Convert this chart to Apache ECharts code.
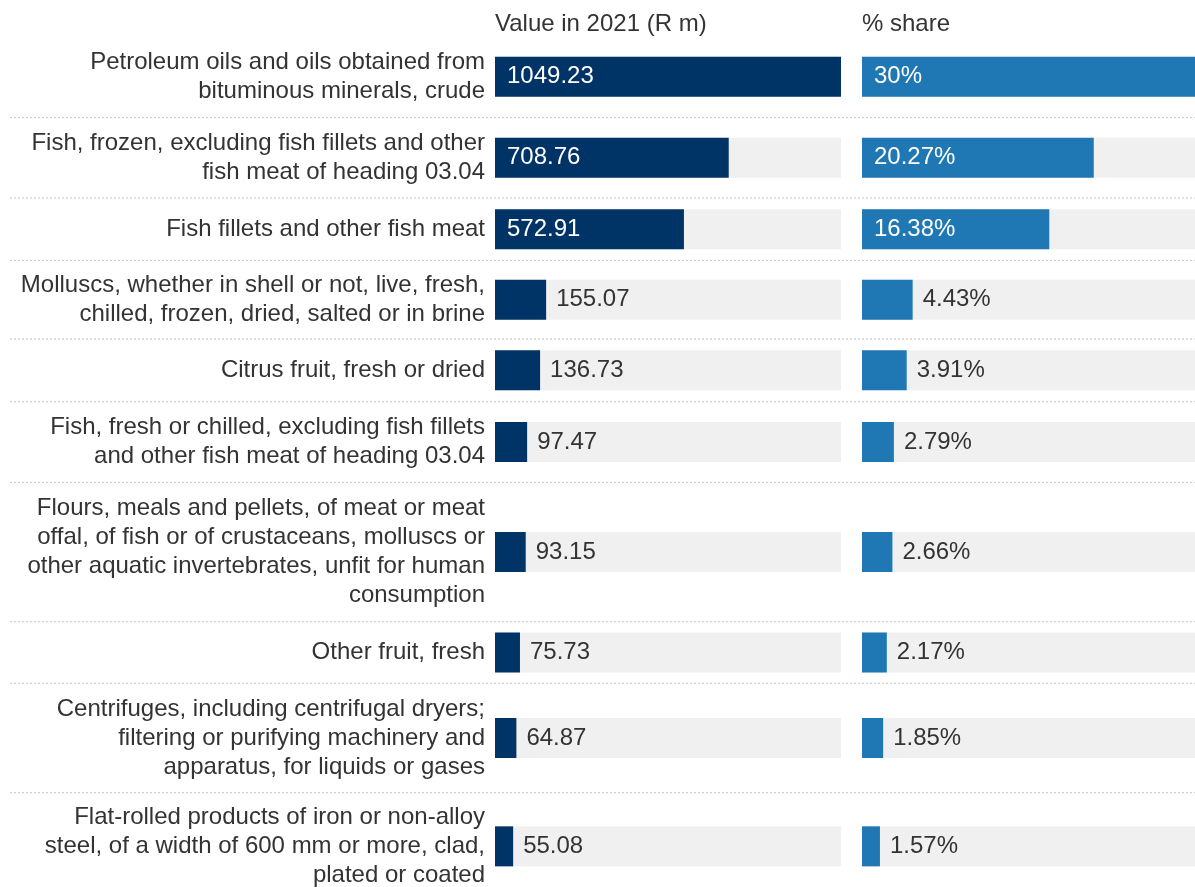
<!DOCTYPE html>
<html>
<head>
<meta charset="utf-8">
<script src="https://cdn.jsdelivr.net/npm/echarts@6/dist/echarts.min.js"></script>
<style>
html,body{margin:0;padding:0;background:#fff;}
#chart{width:1195px;height:887px;}
</style>
</head>
<body>
<div id="chart"></div>
<script>
// ---- data ----
var categories = [
  "Petroleum oils and oils obtained from\nbituminous minerals, crude",
  "Fish, frozen, excluding fish fillets and other\nfish meat of heading 03.04",
  "Fish fillets and other fish meat",
  "Molluscs, whether in shell or not, live, fresh,\nchilled, frozen, dried, salted or in brine",
  "Citrus fruit, fresh or dried",
  "Fish, fresh or chilled, excluding fish fillets\nand other fish meat of heading 03.04",
  "Flours, meals and pellets, of meat or meat\noffal, of fish or of crustaceans, molluscs or\nother aquatic invertebrates, unfit for human\nconsumption",
  "Other fruit, fresh",
  "Centrifuges, including centrifugal dryers;\nfiltering or purifying machinery and\napparatus, for liquids or gases",
  "Flat-rolled products of iron or non-alloy\nsteel, of a width of 600 mm or more, clad,\nplated or coated"
];
var values = [1049.23, 708.76, 572.91, 155.07, 136.73, 97.47, 93.15, 75.73, 64.87, 55.08];
var shares = [30, 20.27, 16.38, 4.43, 3.91, 2.79, 2.66, 2.17, 1.85, 1.57];
var panelTitles = ["Value in 2021 (R m)", "% share"];

// ---- layout (pixels) ----
var rowBounds = [36, 117.5, 198, 260.5, 339, 401.7, 482.5, 621.7, 683.3, 792.7, 900];
var barH = 40;
var leftPanel = {left: 495, width: 346};
var rightPanel = {left: 862, width: 343};
var FONT = "'Liberation Sans', Arial, sans-serif";
var TXT = '#333333';
var NAVY = '#003366';
var BLUE = '#1f77b4';

var grids = [], xAxes = [], yAxes = [], series = [], graphics = [];
var maxV = Math.max.apply(null, values);
var maxS = Math.max.apply(null, shares);

function labelFor(v, max, suffix) {
  var inside = v / max > 0.3;
  return {
    show: true,
    position: inside ? 'insideLeft' : 'right',
    distance: inside ? 12 : 10,
    color: inside ? '#ffffff' : TXT,
    fontSize: 24,
    fontFamily: FONT,
    formatter: function (p) { return p.value + suffix; }
  };
}

categories.forEach(function (cat, i) {
  var center = (rowBounds[i] + rowBounds[i + 1]) / 2;
  var top = center - barH / 2;
  [0, 1].forEach(function (panel) {
    var idx = grids.length;
    var P = panel === 0 ? leftPanel : rightPanel;
    grids.push({left: P.left, width: P.width, top: top, height: barH,
                containLabel: false, outerBoundsMode: 'none'});
    xAxes.push({type: 'value', gridIndex: idx, min: 0, max: panel === 0 ? maxV : maxS, show: false});
    yAxes.push({
      type: 'category', gridIndex: idx, data: [cat],
      axisLine: {show: false}, axisTick: {show: false}, splitLine: {show: false},
      axisLabel: {
        show: panel === 0, margin: 10, fontSize: 24, lineHeight: 29,
        color: TXT, fontFamily: FONT, align: 'right'
      }
    });
    var v = panel === 0 ? values[i] : shares[i];
    series.push({
      type: 'bar', xAxisIndex: idx, yAxisIndex: idx,
      barWidth: barH,
      showBackground: true,
      backgroundStyle: {color: '#f0f0f0'},
      itemStyle: {color: panel === 0 ? NAVY : BLUE},
      silent: true,
      animation: false,
      data: [{value: v, label: labelFor(v, panel === 0 ? maxV : maxS, panel === 0 ? '' : '%')}]
    });
  });
});

// dotted separators between rows
for (var b = 1; b < rowBounds.length - 1; b++) {
  graphics.push({
    type: 'line', z: -1, silent: true,
    shape: {x1: 10, y1: rowBounds[b], x2: 1195, y2: rowBounds[b]},
    style: {stroke: '#cccccc', lineWidth: 1.2, lineDash: [2, 2]}
  });
}

var chart = echarts.init(document.getElementById('chart'), null, {renderer: 'canvas'});
chart.setOption({
  animation: false,
  backgroundColor: '#ffffff',
  textStyle: {fontFamily: FONT},
  title: [
    {text: panelTitles[0], left: leftPanel.left, top: 12, padding: 0,
     textStyle: {fontSize: 24, fontWeight: 'normal', color: TXT, fontFamily: FONT}},
    {text: panelTitles[1], left: rightPanel.left, top: 12, padding: 0,
     textStyle: {fontSize: 24, fontWeight: 'normal', color: TXT, fontFamily: FONT}}
  ],
  grid: grids,
  xAxis: xAxes,
  yAxis: yAxes,
  series: series,
  graphic: graphics
});
</script>
</body>
</html>
